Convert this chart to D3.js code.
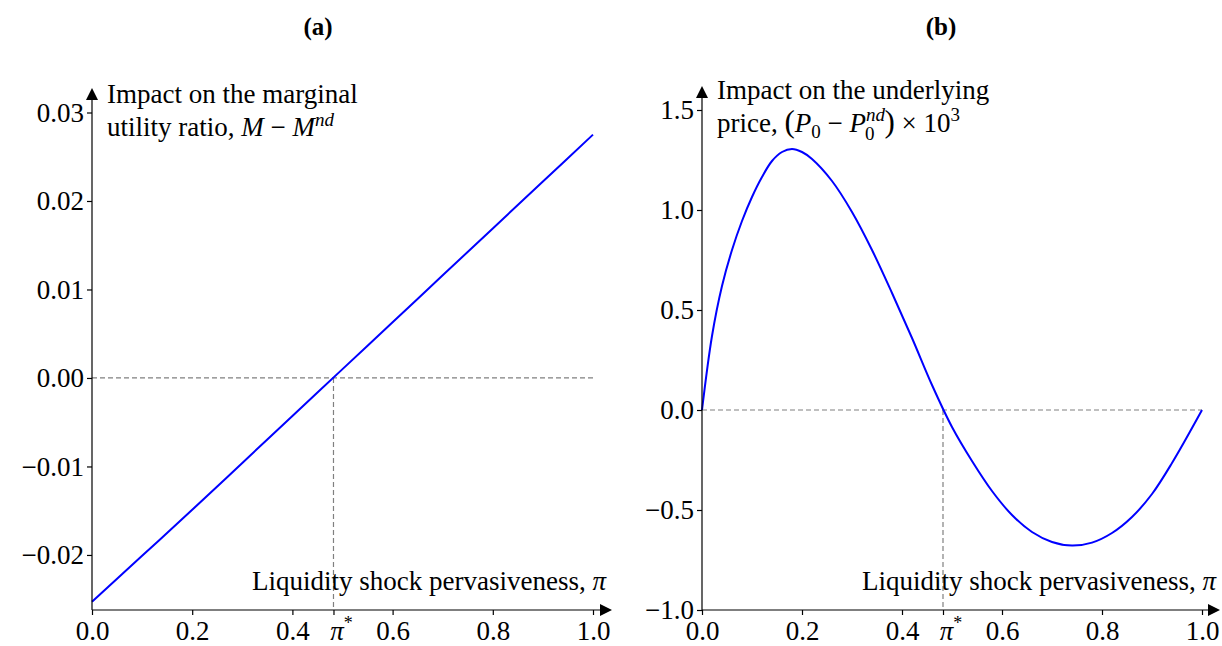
<!DOCTYPE html>
<html>
<head>
<meta charset="utf-8">
<script src="https://cdn.jsdelivr.net/npm/d3@7"></script>
<style>
  body { margin: 0; background: #fff; }
  svg text { font-family: "Liberation Serif", "Times New Roman", serif; fill: #000; }
</style>
</head>
<body>
<div id="chart"></div>
<script>
// panel (a): marginal utility ratio impact
var piA = [0, 0.1, 0.2, 0.3, 0.4, 0.5, 0.6, 0.7, 0.8, 0.9, 1.0];
var utilA = [-0.0253, -0.0201, -0.0149, -0.0096, -0.0043, 0.0010, 0.0063, 0.0116, 0.0169, 0.0222, 0.0275];

// panel (b): underlying price impact (x 10^3)
var piB = [0, 0.02, 0.04, 0.06, 0.08, 0.10, 0.12, 0.14, 0.16, 0.18, 0.20, 0.22, 0.26, 0.30,
  0.34, 0.38, 0.42, 0.46, 0.50, 0.54, 0.58, 0.62, 0.66, 0.70, 0.74, 0.78, 0.82, 0.86, 0.90,
  0.94, 1.0];
var priceB = [0, 0.37, 0.62, 0.80, 0.945, 1.065, 1.165, 1.245, 1.29, 1.305, 1.29, 1.255, 1.145, 0.99,
  0.80, 0.585, 0.36, 0.125, -0.085, -0.255, -0.405, -0.525, -0.61, -0.66, -0.678, -0.663, -0.615, -0.535, -0.42,
  -0.265, 0];

var piStar = 0.482;
var xTicks = [0, 0.2, 0.4, 0.6, 0.8, 1.0];
var yTicksA = [-0.02, -0.01, 0.00, 0.01, 0.02, 0.03];
var yTicksB = [-1.0, -0.5, 0.0, 0.5, 1.0, 1.5];

var width = 1222, height = 646;
var svg = d3.select("#chart").append("svg")
  .attr("width", width)
  .attr("height", height);

var defs = svg.append("defs");
defs.append("marker")
  .attr("id", "arrow")
  .attr("viewBox", "0 0 10 10")
  .attr("refX", 0).attr("refY", 5)
  .attr("markerUnits", "userSpaceOnUse")
  .attr("markerWidth", 14).attr("markerHeight", 12)
  .attr("orient", "auto")
  .append("path").attr("d", "M0,0 L10,5 L0,10 Z").attr("fill", "#000");

var fontSize = 27;

function drawPanel(opt) {
  var g = svg.append("g");
  var x = d3.scaleLinear().domain([0, 1]).range(opt.xRange);
  var y = d3.scaleLinear().domain(opt.yDomain).range([opt.yBottom, opt.yTop]);
  var y0 = opt.yDomain[0];

  // dashed reference lines
  g.append("line")
    .attr("x1", x(0)).attr("x2", x(1))
    .attr("y1", y(0)).attr("y2", y(0))
    .attr("stroke", "#808080").attr("stroke-width", 1.2).attr("stroke-dasharray", "5,3");
  g.append("line")
    .attr("x1", x(piStar)).attr("x2", x(piStar))
    .attr("y1", y(0)).attr("y2", y(y0))
    .attr("stroke", "#808080").attr("stroke-width", 1.2).attr("stroke-dasharray", "5,3");

  // curve
  var line = d3.line()
    .x(function(d) { return x(d[0]); })
    .y(function(d) { return y(d[1]); })
    .curve(d3.curveCatmullRom.alpha(0.5));
  g.append("path")
    .datum(d3.zip(opt.xs, opt.ys))
    .attr("d", line)
    .attr("fill", "none")
    .attr("stroke", "#0000ff")
    .attr("stroke-width", 2);

  // x axis
  var xa = g.append("g")
    .attr("transform", "translate(0," + y(y0) + ")")
    .call(d3.axisBottom(x).tickValues(xTicks.concat([piStar])).tickSizeInner(5).tickSizeOuter(0)
      .tickFormat(function(d) { return d === piStar ? "" : d3.format(".1f")(d); }));
  xa.select(".domain").remove();
  xa.selectAll(".tick line").attr("stroke", "#000").attr("stroke-width", 1.2);
  xa.selectAll(".tick text").attr("font-size", fontSize).attr("dy", "0.8em")
    .style("font-family", "'Liberation Serif', serif");
  g.append("text")
    .attr("x", x(piStar) + 8).attr("y", y(y0) + 29.5)
    .attr("text-anchor", "middle").attr("font-size", fontSize)
    .html('<tspan font-style="italic">π</tspan><tspan dy="-11" font-size="18">*</tspan>');
  g.append("line")
    .attr("x1", x(0)).attr("x2", opt.xArrowEnd)
    .attr("y1", y(y0)).attr("y2", y(y0))
    .attr("stroke", "#000").attr("stroke-width", 1.2)
    .attr("marker-end", "url(#arrow)");

  // y axis
  var ya = g.append("g")
    .attr("transform", "translate(" + x(0) + ",0)")
    .call(d3.axisLeft(y).tickValues(opt.yTicks).tickSizeInner(5).tickSizeOuter(0)
      .tickFormat(d3.format(opt.yFmt)));
  ya.select(".domain").remove();
  ya.selectAll(".tick line").attr("stroke", "#000").attr("stroke-width", 1.2);
  ya.selectAll(".tick text").attr("font-size", fontSize).attr("x", -8)
    .style("font-family", "'Liberation Serif', serif");
  g.append("line")
    .attr("x1", x(0)).attr("x2", x(0))
    .attr("y1", y(y0)).attr("y2", opt.yArrowEnd)
    .attr("stroke", "#000").attr("stroke-width", 1.2)
    .attr("marker-end", "url(#arrow)");

  // x label
  g.append("text")
    .attr("x", opt.xLabelRight).attr("y", y(y0) - 20)
    .attr("text-anchor", "end").attr("font-size", fontSize)
    .html('Liquidity shock pervasiveness, <tspan font-style="italic">π</tspan>');

  // y label, two lines
  g.append("text")
    .attr("x", x(0) + 15).attr("y", opt.labelY)
    .attr("font-size", fontSize)
    .text(opt.yLabel1);
  g.append("text")
    .attr("x", x(0) + 15).attr("y", opt.labelY + 33)
    .attr("font-size", fontSize)
    .html(opt.yLabel2);

  // panel title
  svg.append("text")
    .attr("x", opt.titleX).attr("y", 35)
    .attr("text-anchor", "middle").attr("font-size", 25).attr("font-weight", "bold")
    .text(opt.title);
}

drawPanel({
  xs: piA, ys: utilA,
  xRange: [92, 593],
  yDomain: [-0.02622, 0.03],
  yBottom: 610, yTop: 112.5,
  yTicks: yTicksA, yFmt: ".2f",
  xArrowEnd: 600, yArrowEnd: 100,
  xLabelRight: 606,
  labelY: 103,
  yLabel1: "Impact on the marginal",
  yLabel2: 'utility ratio, <tspan font-style="italic">M</tspan> − <tspan font-style="italic">M</tspan><tspan font-style="italic" dy="-10" font-size="19">nd</tspan>',
  title: "(a)", titleX: 318
});

drawPanel({
  xs: piB, ys: priceB,
  xRange: [702, 1202],
  yDomain: [-1.0, 1.5],
  yBottom: 610, yTop: 110,
  yTicks: yTicksB, yFmt: ".1f",
  xArrowEnd: 1208, yArrowEnd: 98,
  xLabelRight: 1216,
  labelY: 99,
  yLabel1: "Impact on the underlying",
  yLabel2: 'price, <tspan font-size="31">(</tspan><tspan font-style="italic">P</tspan><tspan font-size="19" dy="6">0</tspan><tspan dy="-6"> − </tspan><tspan font-style="italic">P</tspan><tspan font-style="italic" font-size="19" dy="-11">nd</tspan><tspan font-size="19" dx="-20" dy="19">0</tspan><tspan font-size="31" dx="10" dy="-8">)</tspan> × 10<tspan font-size="19" dy="-11">3</tspan>',
  title: "(b)", titleX: 941
});
</script>
</body>
</html>
